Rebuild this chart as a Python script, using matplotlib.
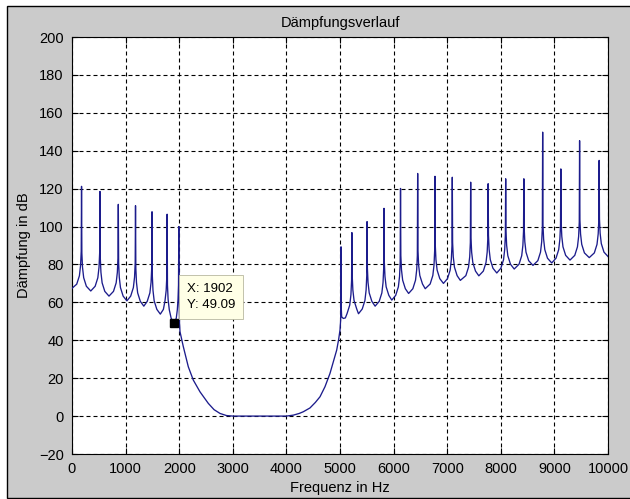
import matplotlib
matplotlib.use("Agg")
import matplotlib.pyplot as plt
import matplotlib.patches as mpatches
import numpy as np

# ── Messwerte: Dämpfungsverlauf (Frequenz in Hz, Dämpfung in dB) ────────────────
# unterer Sperrbereich, 0 ... 2 kHz (eine Zeile je Polstelle)
sperr_unten = [
    (0, 67.4), (88, 69.6), (138, 74.0), (160, 79.5), (172, 87.0), (178, 121.2),
    (184, 86.0), (196, 78.5), (218, 73.0), (268, 68.5), (350, 66.0),
    (432, 68.5), (482, 73.0), (504, 78.5), (516, 86.0), (522, 118.5),
    (528, 83.3), (540, 75.8), (562, 70.3), (612, 65.8), (690, 63.3),
    (774, 65.8), (824, 70.3), (846, 75.8), (858, 83.3), (864, 111.7),
    (870, 80.8), (882, 73.3), (904, 67.8), (954, 63.3), (1024, 60.8),
    (1095, 63.3), (1145, 67.8), (1167, 73.3), (1179, 80.8), (1185, 111.0),
    (1191, 78.0), (1203, 70.5), (1225, 65.0), (1275, 60.5), (1340, 58.0),
    (1403, 60.5), (1453, 65.0), (1475, 70.5), (1487, 78.0), (1493, 107.8),
    (1499, 73.8), (1511, 66.3), (1533, 60.8), (1583, 56.3), (1648, 53.8),
    (1705, 56.3), (1735, 60.8), (1757, 66.3), (1769, 73.8), (1775, 106.5),
    (1781, 69.1), (1793, 61.6), (1815, 56.1), (1850, 51.6), (1902, 49.09),
    (1945, 51.6), (1965, 56.1), (1978, 61.6), (1987, 69.1), (1993, 100.0),
    (1998, 62.0), (2006, 49.0), (2015, 44.5),
]

# Durchlassbereich, 2 ... 5 kHz
durchlass = [
    (2077, 36.6), (2170, 26.0), (2263, 19.0), (2388, 12.8), (2543, 6.7),
    (2650, 3.4), (2761, 1.4), (2880, 0.3), (3000, 0.0), (4000, 0.0),
    (4129, 0.5), (4240, 1.4), (4316, 2.3), (4440, 4.3), (4540, 7.2),
    (4627, 10.2), (4720, 15.5), (4813, 22.5), (4880, 29.0), (4938, 34.8),
    (4975, 40.5), (5000, 45.4),
]

# oberer Sperrbereich, 5 ... 10 kHz
sperr_oben = [
    (5012, 50.5), (5016, 56.0), (5019, 89.3), (5022, 58.0), (5031, 52.4),
    (5062, 51.5), (5100, 51.8),
    (5132, 54.1), (5182, 58.6), (5204, 64.1), (5216, 71.6), (5222, 96.8),
    (5228, 74.0), (5240, 66.5), (5262, 61.0), (5312, 56.5), (5345, 54.0),
    (5415, 56.5), (5465, 61.0), (5487, 66.5), (5499, 74.0), (5505, 102.6),
    (5511, 78.0), (5523, 70.5), (5545, 65.0), (5595, 60.5), (5655, 58.0),
    (5731, 60.5), (5781, 65.0), (5803, 70.5), (5815, 78.0), (5821, 109.6),
    (5827, 81.2), (5839, 73.7), (5861, 68.2), (5911, 63.7), (5966, 61.2),
    (6039, 63.7), (6089, 68.2), (6111, 73.7), (6123, 81.2), (6129, 120.1),
    (6135, 84.7), (6147, 77.2), (6169, 71.7), (6219, 67.2), (6280, 64.7),
    (6359, 67.2), (6409, 71.7), (6431, 77.2), (6443, 84.7), (6449, 128.0),
    (6455, 87.2), (6467, 79.7), (6489, 74.2), (6539, 69.7), (6590, 67.2),
    (6682, 69.7), (6732, 74.2), (6754, 79.7), (6766, 87.2), (6772, 126.5),
    (6778, 90.0), (6790, 82.5), (6812, 77.0), (6862, 72.5), (6930, 70.0),
    (7005, 72.5), (7055, 77.0), (7077, 82.5), (7089, 90.0), (7095, 126.0),
    (7101, 91.6), (7113, 84.1), (7135, 78.6), (7185, 74.1), (7245, 71.6),
    (7348, 74.1), (7398, 78.6), (7420, 84.1), (7432, 91.6), (7438, 123.4),
    (7444, 94.0), (7456, 86.5), (7478, 81.0), (7528, 76.5), (7590, 74.0),
    (7674, 76.5), (7724, 81.0), (7746, 86.5), (7758, 94.0), (7764, 122.6),
    (7770, 95.5), (7782, 88.0), (7804, 82.5), (7854, 78.0), (7925, 75.5),
    (8001, 78.0), (8051, 82.5), (8073, 88.0), (8085, 95.5), (8091, 125.2),
    (8097, 97.6), (8109, 90.1), (8131, 84.6), (8181, 80.1), (8250, 77.6),
    (8340, 80.1), (8390, 84.6), (8412, 90.1), (8424, 97.6), (8430, 125.2),
    (8436, 99.5), (8448, 92.0), (8470, 86.5), (8520, 82.0), (8600, 79.5),
    (8691, 82.0), (8741, 86.5), (8763, 92.0), (8775, 99.5), (8781, 149.8),
    (8787, 100.8), (8799, 93.3), (8821, 87.8), (8871, 83.3), (8950, 80.8),
    (9030, 83.3), (9080, 87.8), (9102, 93.3), (9114, 100.8), (9120, 130.4),
    (9126, 102.3), (9138, 94.8), (9160, 89.3), (9210, 84.8), (9291, 82.3),
    (9380, 84.8), (9430, 89.3), (9452, 94.8), (9464, 102.3), (9470, 145.3),
    (9476, 103.6), (9488, 96.1), (9510, 90.6), (9560, 86.1), (9650, 83.6),
    (9745, 86.1), (9795, 90.6), (9817, 96.1), (9829, 103.6), (9835, 134.9),
    (9841, 104.0), (9853, 96.5), (9875, 91.0), (9925, 86.5), (10000, 84.2),
]

# Datencursor
tip_x = 1902
tip_y = 49.09

x_ticks = list(range(0, 10001, 1000))
y_ticks = list(range(-20, 201, 20))

# ── Kurve zusammensetzen ───────────────────────────────────────────────────────
punkte = np.array(sperr_unten + durchlass + sperr_oben)
freq = punkte[:, 0]
daempfung = punkte[:, 1]

# ── Plot ───────────────────────────────────────────────────────────────────────
plt.rcParams["font.family"] = ["Liberation Sans", "DejaVu Sans"]

fig = plt.figure(figsize=(6.30, 4.99), dpi=100, facecolor="white")

# grauer Fensterhintergrund mit schwarzem Rahmen
rahmen = mpatches.Rectangle((6.5 / 630, 1.5 / 499), 1.0, 1 - 7.0 / 499,
                            transform=fig.transFigure, facecolor="#cbcbcb",
                            edgecolor="black", linewidth=1.0, zorder=-1)
fig.patches.append(rahmen)

ax = fig.add_axes([72 / 630, 45 / 499, 536 / 630, 417 / 499])
ax.set_zorder(1)
ax.set_facecolor("white")

ax.plot(freq, daempfung, color="#1c1c8c", linewidth=0.95, zorder=3)

ax.set_xlim(0, 10000)
ax.set_ylim(-20, 200)
ax.set_xticks(x_ticks)
ax.set_yticks(y_ticks)
ax.tick_params(direction="in", length=4, width=0.8, top=True, right=True,
               labelsize=10.5, pad=6, colors="black")
ax.grid(True, color="black", linewidth=0.8, linestyle=(0, (3.6, 2.7)))
for sp in ax.spines.values():
    sp.set_linewidth(0.8)
    sp.set_color("black")

ax.set_title("Dämpfungsverlauf", fontsize=10.5, pad=7)
ax.set_xlabel("Frequenz in Hz", fontsize=10.5)
ax.set_ylabel("Dämpfung in dB", fontsize=10.5)
ax.xaxis.set_label_coords(0.5, -0.064)
ax.yaxis.set_label_coords(-0.077, 0.5)

# Datencursor mit Beschriftung
ax.plot([tip_x], [tip_y], marker="s", markersize=6, color="black",
        linestyle="none", zorder=5)
ax.annotate(f"X: {tip_x}\nY: {tip_y:.2f}", xy=(tip_x, tip_y),
            xycoords="data", xytext=(13, 12), textcoords="offset pixels",
            ha="left", va="bottom", fontsize=9.5, linespacing=1.5, zorder=6,
            bbox=dict(boxstyle="square,pad=0.6", facecolor="#ffffe6",
                      edgecolor="#b8b8a0", linewidth=0.6))

fig.savefig("out.png", dpi=100, facecolor=fig.get_facecolor())
